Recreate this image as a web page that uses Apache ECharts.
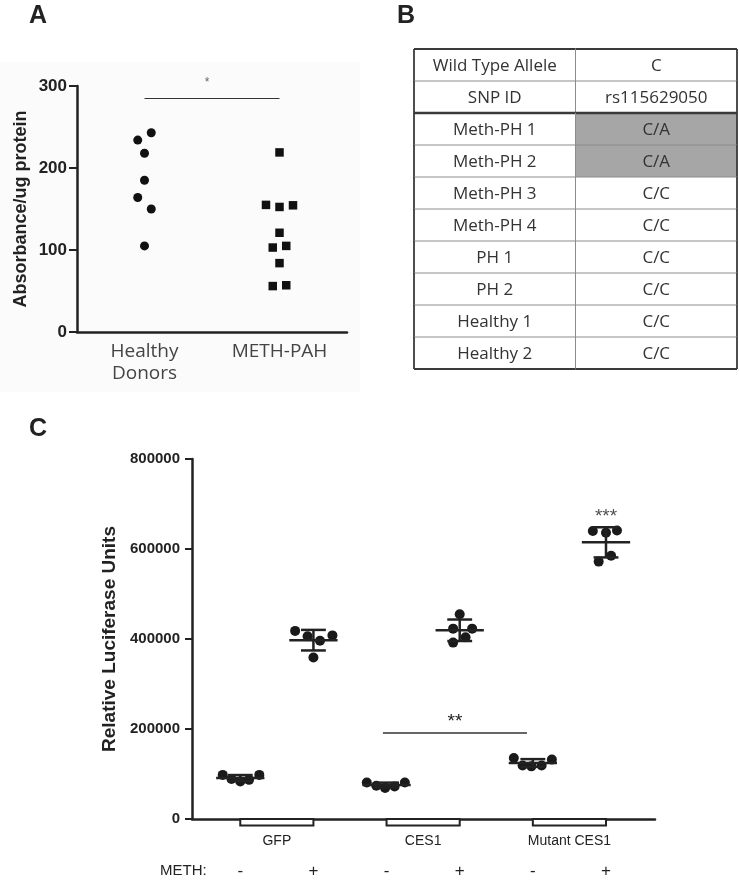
<!DOCTYPE html>
<html><head><meta charset="utf-8">
<script src="https://cdn.jsdelivr.net/npm/echarts@6/dist/echarts.min.js"></script>
<style>html,body{margin:0;padding:0;background:#fff}#c{width:739px;height:885px}</style>
</head><body><div id="c"></div>
<script>
// ---------- Panel A data ----------
const aCategories = ['Healthy\nDonors', 'METH-PAH'];
const aYTicks = [0, 100, 200, 300];
const healthyX = [0.05, -0.05, 0, 0, -0.05, 0.05, 0];
const healthyY = [243, 234, 218, 185, 164, 150, 105];
const methX = [0, -0.1, 0, 0.1, 0, -0.05, 0.05, 0, -0.05, 0.05];
const methY = [219, 155, 152.5, 154.5, 121, 103, 105, 84, 56, 57];
const aSigFrom = 0, aSigTo = 1, aSigY = 285, aSigText = '*';

// ---------- Panel B data ----------
const tableLabels = ['Wild Type Allele', 'SNP ID', 'Meth-PH 1', 'Meth-PH 2', 'Meth-PH 3', 'Meth-PH 4', 'PH 1', 'PH 2', 'Healthy 1', 'Healthy 2'];
const tableValues = ['C', 'rs115629050', 'C/A', 'C/A', 'C/C', 'C/C', 'C/C', 'C/C', 'C/C', 'C/C'];
const tableShaded = [0, 0, 1, 1, 0, 0, 0, 0, 0, 0];

// ---------- Panel C data ----------
const cGroups = ['GFP', 'CES1', 'Mutant CES1'];
const cGroupSlots = [[0, 1], [2, 3], [4, 5]];
const cMeth = ['-', '+', '-', '+', '-', '+'];
const cYTicks = [0, 200000, 400000, 600000, 800000];
const cValues = [
  [98000, 89000, 83500, 87000, 98000],
  [418000, 406000, 396000, 408000, 359000],
  [81000, 74000, 69000, 72500, 81000],
  [455000, 423000, 423000, 404000, 392000],
  [135500, 119000, 117000, 119000, 132000],
  [640000, 636000, 641000, 572000, 585000]
];
const cJitter = [
  [-0.24, -0.12, 0, 0.12, 0.26],
  [-0.25, -0.08, 0.09, 0.26, 0],
  [-0.27, -0.14, -0.02, 0.11, 0.25],
  [0, -0.09, 0.17, 0.08, -0.09],
  [-0.26, -0.14, -0.02, 0.12, 0.26],
  [-0.18, 0, 0.15, -0.1, 0.07]
];
const cSigFrom = 1.95, cSigTo = 3.92, cSigY = 191000, cSigText = '**';
const cStarSlot = 5, cStarY = 683000, cStarText = '***';

// ---------- build ----------
const ax = '#222';
const boldFont = 'Liberation Sans, Arial, sans-serif';

const healthyData = healthyY.map((v, i) => [0 + healthyX[i], v]);
const methData = methY.map((v, i) => [1 + methX[i], v]);

const pointsC = [];
cValues.forEach((arr, s) => arr.forEach((v, i) => pointsC.push([s + cJitter[s][i], v])));
const statsC = cValues.map((arr, s) => {
  const m = arr.reduce((a, b) => a + b, 0) / arr.length;
  const sd = Math.sqrt(arr.reduce((a, b) => a + (b - m) * (b - m), 0) / (arr.length - 1));
  return [s, m, sd];
});

const tableData = [];
tableLabels.forEach((t, r) => { tableData.push([0, r]); tableData.push([1, r]); });

const option = {
  animation: false,
  backgroundColor: '#fff',
  graphic: [
    { type: 'rect', z: -10, shape: { x: 0, y: 62, width: 360, height: 330 }, style: { fill: '#fbfbfb' } },
    { type: 'text', left: 29, top: 4, style: { text: 'A', font: 'bold 25px Liberation Sans', fill: '#222' } },
    { type: 'text', left: 397, top: 4, style: { text: 'B', font: 'bold 25px Liberation Sans', fill: '#222' } },
    { type: 'text', left: 29, top: 417, style: { text: 'C', font: 'bold 25px Liberation Sans', fill: '#222' } },
    { type: 'text', left: 160, top: 863, style: { text: 'METH:', font: '15px Liberation Sans', fill: '#222' } }
  ],
  grid: [
    { left: 77, top: 86, width: 270, height: 246 },
    { left: 414, top: 49, width: 323, height: 320 },
    { left: 192, top: 459, width: 463, height: 360 }
  ],
  xAxis: [
    { gridIndex: 0, type: 'value', min: -0.5, max: 1.5,
      axisLine: { onZero: false, lineStyle: { color: ax, width: 2.5 } }, axisTick: { show: false }, splitLine: { show: false },
      axisLabel: { customValues: [0, 1], formatter: v => aCategories[Math.round(v)], color: '#444',
        fontFamily: 'Open Sans', fontSize: 19, lineHeight: 22, margin: 9 } },
    { gridIndex: 1, type: 'category', data: ['label', 'value'], show: false },
    { gridIndex: 2, type: 'value', min: -0.66, max: 5.67,
      axisLine: { onZero: false, lineStyle: { color: ax, width: 2.5 } }, axisTick: { show: false }, splitLine: { show: false },
      axisLabel: { customValues: [0.5, 2.5, 4.5], formatter: v => cGroups[Math.round((v - 0.5) / 2)],
        color: '#222', fontFamily: boldFont, fontSize: 14, margin: 15 } },
    { gridIndex: 2, type: 'value', min: -0.66, max: 5.67, position: 'bottom', offset: 42,
      axisLine: { show: false, onZero: false }, axisTick: { show: false }, splitLine: { show: false },
      axisLabel: { customValues: [0, 1, 2, 3, 4, 5], formatter: v => cMeth[Math.round(v)],
        color: '#222', fontFamily: boldFont, fontSize: 17, margin: 2 } }
  ],
  yAxis: [
    { gridIndex: 0, type: 'value', min: 0, max: 300, interval: 100,
      name: 'Absorbance/ug protein', nameLocation: 'middle', nameGap: 47,
      nameTextStyle: { fontFamily: boldFont, fontWeight: 'bold', fontSize: 18, color: ax },
      axisLine: { show: true, onZero: false, lineStyle: { color: ax, width: 2.5 } },
      axisTick: { show: true, length: 8, lineStyle: { color: ax, width: 2 } }, splitLine: { show: false },
      axisLabel: { formatter: v => String(v), color: ax, fontFamily: boldFont, fontWeight: 'bold', fontSize: 17, margin: 10 } },
    { gridIndex: 1, type: 'category', data: tableLabels, inverse: true, show: false },
    { gridIndex: 2, type: 'value', min: 0, max: 800000, interval: 200000,
      name: 'Relative Luciferase Units', nameLocation: 'middle', nameGap: 64,
      nameTextStyle: { fontFamily: boldFont, fontWeight: 'bold', fontSize: 19, color: ax },
      axisLine: { show: true, onZero: false, lineStyle: { color: ax, width: 2.5 } },
      axisTick: { show: true, length: 7, lineStyle: { color: ax, width: 2 } }, splitLine: { show: false },
      axisLabel: { formatter: v => String(v), color: ax, fontFamily: boldFont, fontWeight: 'bold', fontSize: 15, margin: 12 } }
  ],
  series: [
    { type: 'scatter', xAxisIndex: 0, yAxisIndex: 0, data: healthyData, symbol: 'circle', symbolSize: 9,
      itemStyle: { color: '#111', opacity: 1 },
      markLine: { silent: true, symbol: ['none', 'none'], lineStyle: { color: '#333', width: 1.2, type: 'solid' },
        label: { show: true, position: 'middle', formatter: aSigText, color: '#666', fontSize: 12, distance: 10, offset: [-5, 0] },
        data: [[{ coord: [aSigFrom, aSigY] }, { coord: [aSigTo, aSigY] }]] } },
    { type: 'scatter', xAxisIndex: 0, yAxisIndex: 0, data: methData, symbol: 'rect', symbolSize: 8.5,
      itemStyle: { color: '#111', opacity: 1 } },
    { type: 'custom', xAxisIndex: 1, yAxisIndex: 1, data: tableData, clip: false,
      renderItem: (params, api) => {
        const col = api.value(0), row = api.value(1);
        const c = api.coord([col, row]);
        const sz = api.size([1, 1]);
        const x0 = c[0] - sz[0] / 2, y0 = c[1] - sz[1] / 2, x1 = x0 + sz[0], y1 = y0 + sz[1];
        const last = tableLabels.length - 1;
        const dark = '#3a3a3a', light = '#8c8c8c';
        const ch = [
          { type: 'rect', shape: { x: x0, y: y0, width: sz[0], height: sz[1] },
            style: { fill: (col === 1 && tableShaded[row]) ? '#a6a6a6' : '#fff' } },
          { type: 'text', style: { text: col === 0 ? tableLabels[row] : tableValues[row], x: c[0], y: c[1] + 1,
            align: 'center', verticalAlign: 'middle', fontFamily: 'Open Sans', fontSize: 17, fill: '#333' } },
          { type: 'line', shape: { x1: x0, y1: y0, x2: x1, y2: y0 },
            style: { stroke: (row === 0 || row === 2) ? dark : light, lineWidth: row === 2 ? 2.5 : (row === 0 ? 1.8 : 1) } },
          { type: 'line', shape: { x1: x0, y1: y0, x2: x0, y2: y1 },
            style: { stroke: col === 0 ? dark : light, lineWidth: col === 0 ? 1.8 : 1 } }
        ];
        if (row === last) ch.push({ type: 'line', shape: { x1: x0, y1: y1, x2: x1, y2: y1 }, style: { stroke: dark, lineWidth: 1.8 } });
        if (col === 1) ch.push({ type: 'line', shape: { x1: x1, y1: y0, x2: x1, y2: y1 }, style: { stroke: dark, lineWidth: 1.8 } });
        return { type: 'group', children: ch };
      } },
    { type: 'custom', xAxisIndex: 2, yAxisIndex: 2, data: cGroupSlots, clip: false, z: 1,
      renderItem: (params, api) => {
        const p0 = api.coord([api.value(0), 0]), p1 = api.coord([api.value(1), 0]);
        return { type: 'rect', shape: { x: p0[0], y: p0[1], width: p1[0] - p0[0], height: 6.5 },
          style: { fill: '#fff', stroke: ax, lineWidth: 2 } };
      } },
    { type: 'scatter', xAxisIndex: 2, yAxisIndex: 2, data: pointsC, symbol: 'circle', symbolSize: 10,
      itemStyle: { color: '#1a1a1a', opacity: 1 },
      markLine: { silent: true, symbol: ['none', 'none'], lineStyle: { color: '#333', width: 1.5, type: 'solid' },
        label: { show: true, position: 'middle', formatter: cSigText, color: '#222', fontSize: 19, distance: 2 },
        data: [[{ coord: [cSigFrom, cSigY] }, { coord: [cSigTo, cSigY] }]] } },
    { type: 'custom', xAxisIndex: 2, yAxisIndex: 2, data: statsC, z: 5,
      renderItem: (params, api) => {
        const x = api.value(0), m = api.value(1), s = api.value(2);
        const c = api.coord([x, m]), t = api.coord([x, m + s]), b = api.coord([x, m - s]);
        const hw = api.size([0.33, 0])[0], cw = api.size([0.17, 0])[0];
        const st = { stroke: ax, lineWidth: 2.5 };
        return { type: 'group', children: [
          { type: 'line', shape: { x1: c[0] - hw, y1: c[1], x2: c[0] + hw, y2: c[1] }, style: st },
          { type: 'line', shape: { x1: c[0], y1: t[1], x2: c[0], y2: b[1] }, style: st },
          { type: 'line', shape: { x1: c[0] - cw, y1: t[1], x2: c[0] + cw, y2: t[1] }, style: st },
          { type: 'line', shape: { x1: c[0] - cw, y1: b[1], x2: c[0] + cw, y2: b[1] }, style: st }
        ] };
      } },
    { type: 'scatter', xAxisIndex: 2, yAxisIndex: 2, data: [[cStarSlot, cStarY]], symbolSize: 1,
      itemStyle: { color: 'rgba(0,0,0,0)' },
      label: { show: true, position: 'inside', formatter: cStarText, color: '#222', fontSize: 19, offset: [0, 5] } }
  ]
};
const chart = echarts.init(document.getElementById('c'), null, { renderer: 'canvas' });
chart.setOption(option);
</script></body></html>
